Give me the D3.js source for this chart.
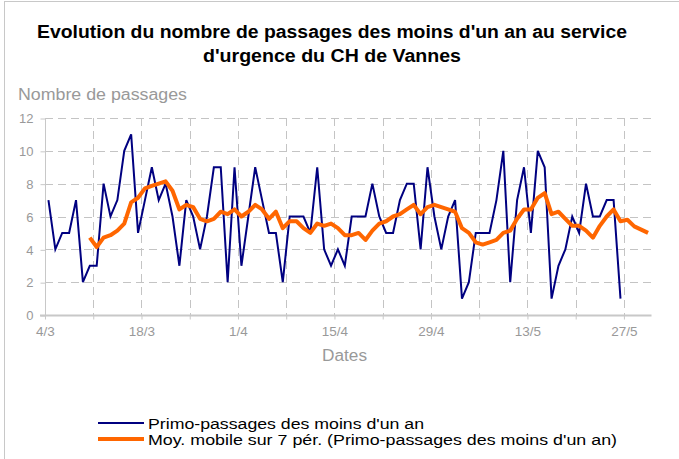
<!DOCTYPE html>
<html>
<head>
<meta charset="utf-8">
<script src="https://cdn.jsdelivr.net/npm/d3@7"></script>
<style>
  body { margin: 0; background: #fff; }
  text { font-family: "Liberation Sans", Arial, sans-serif; }
</style>
</head>
<body>
<svg id="chart" width="679" height="459"></svg>
<script>
// premier jour de la série, nombre de jours sur l'axe
var startDay = new Date(Date.UTC(2010, 2, 4));
var nDays = 88;
// libellés de l'axe des dates (toutes les 2 semaines)
var tickLabels = ['4/3', '18/3', '1/4', '15/4', '29/4', '13/5', '27/5'];
var yTicks = [0, 2, 4, 6, 8, 10, 12];

// primo-passages des moins d'un an, un point par jour depuis le 4/3
var primo = [
  7, 4, 5, 5, 7, 2, 3, 3, 8, 6, 7, 10, 11, 5,
  7, 9, 7, 8, 6, 3, 7, 6, 4, 6, 9, 9, 2, 9,
  3, 6, 9, 7, 5, 5, 2, 6, 6, 6, 5, 9, 4, 3,
  4, 3, 6, 6, 6, 8, 6, 5, 5, 7, 8, 8, 4, 9,
  6, 4, 6, 7, 1, 2, 5, 5, 5, 7, 10, 2, 7, 9,
  5, 10, 9, 1, 3, 4, 6, 5, 8, 6, 6, 7, 7, 1
];
// moyenne mobile sur 7 périodes
var moyenne = [
  null, null, null, null, null, null,
  4.71, 4.14, 4.71, 4.86, 5.14, 5.57, 6.86, 7.14,
  7.71, 7.86, 8.00, 8.14, 7.57, 6.43, 6.71, 6.57,
  5.86, 5.71, 5.86, 6.29, 6.14, 6.43, 6.00, 6.29,
  6.71, 6.43, 5.86, 6.29, 5.29, 5.71, 5.71, 5.29,
  5.00, 5.57, 5.43, 5.57, 5.29, 4.86, 4.86, 5.00,
  4.57, 5.14, 5.57, 5.71, 6.00, 6.14, 6.43, 6.71,
  6.14, 6.57, 6.71, 6.57, 6.43, 6.29, 5.29, 5.00,
  4.43, 4.29, 4.43, 4.57, 5.00, 5.14, 5.86, 6.43,
  6.43, 7.14, 7.43, 6.14, 6.29, 5.86, 5.43, 5.43,
  5.14, 4.71, 5.43, 6.00, 6.43, 5.71, 5.80, 5.40,
  5.20, 5.00
];

var svg = d3.select('#chart');
var grey = '#999999', gridColor = '#c4c4c4';

// cadre
svg.append('rect')
  .attr('x', 4.5).attr('y', 1.5)
  .attr('width', 700).attr('height', 500)
  .attr('fill', 'none').attr('stroke', '#c8c8c8');

var plot = { left: 45, right: 651.5, top: 118, bottom: 315 };
var endDay = d3.utcDay.offset(startDay, nDays);
var x = d3.scaleUtc().domain([startDay, endDay]).range([plot.left, plot.right]);
var y = d3.scaleLinear().domain([0, 12]).range([plot.bottom, plot.top]);

function dayCenter(i) {
  return x(d3.utcHour.offset(d3.utcDay.offset(startDay, i), 12));
}

// grille
var weeks = d3.utcDay.range(startDay, endDay, 7);
svg.append('g').selectAll('line')
  .data(weeks.slice(1))
  .enter().append('line')
  .attr('x1', function (d) { return Math.round(x(d)) + 0.5; })
  .attr('x2', function (d) { return Math.round(x(d)) + 0.5; })
  .attr('y1', plot.top).attr('y2', plot.bottom)
  .attr('stroke', gridColor).attr('stroke-dasharray', '8,5');
svg.append('g').selectAll('line')
  .data(yTicks.slice(1))
  .enter().append('line')
  .attr('x1', plot.left).attr('x2', plot.right)
  .attr('y1', function (d) { return Math.round(y(d)) + 0.5; })
  .attr('y2', function (d) { return Math.round(y(d)) + 0.5; })
  .attr('stroke', gridColor).attr('stroke-dasharray', '8,5');

// axe des ordonnées
var yAxis = svg.append('g')
  .attr('transform', 'translate(' + (plot.left + 0.5) + ',0.5)')
  .call(d3.axisLeft(y).tickValues(yTicks).tickSize(5).tickPadding(7));
yAxis.select('.domain').attr('stroke', '#c8c8c8').attr('d', 'M0,' + plot.top + 'V' + plot.bottom);
yAxis.selectAll('.tick line').attr('stroke', '#c8c8c8');
yAxis.selectAll('.tick text')
  .attr('fill', grey).attr('font-size', 13)
  .style('font-family', '"Liberation Sans", Arial, sans-serif');

// axe des dates
var xAxis = svg.append('g')
  .attr('transform', 'translate(0,' + (plot.bottom + 0.5) + ')')
  .call(d3.axisBottom(x).tickValues(weeks).tickSize(4).tickPadding(7)
    .tickFormat(function (d, i) { return i % 2 === 0 ? tickLabels[i / 2] : ''; }));
xAxis.select('.domain').attr('stroke', '#c8c8c8').attr('stroke-width', 2)
  .attr('d', 'M' + (plot.left - 5) + ',0H' + plot.right);
xAxis.selectAll('.tick line').attr('stroke', '#c8c8c8');
xAxis.selectAll('.tick text')
  .attr('fill', grey).attr('font-size', 13.5)
  .style('font-family', '"Liberation Sans", Arial, sans-serif');

// séries
var line = d3.line()
  .defined(function (d) { return d != null; })
  .x(function (d, i) { return dayCenter(i); })
  .y(function (d) { return y(d); });
svg.append('path').datum(primo)
  .attr('d', line).attr('fill', 'none')
  .attr('stroke', '#000080').attr('stroke-width', 2).attr('stroke-linejoin', 'miter');
svg.append('path').datum(moyenne)
  .attr('d', line).attr('fill', 'none')
  .attr('stroke', '#ff6600').attr('stroke-width', 4).attr('stroke-linejoin', 'round');

// titres (le texte d'origine est un peu étiré en largeur)
function stretched(sel, len) {
  return sel.attr('textLength', len).attr('lengthAdjust', 'spacingAndGlyphs');
}
stretched(svg.append('text').attr('x', 37).attr('y', 38)
  .attr('font-size', 17.5).attr('font-weight', 'bold').attr('fill', '#000')
  .text("Evolution du nombre de passages des moins d'un an au service"), 590);
stretched(svg.append('text').attr('x', 203).attr('y', 62)
  .attr('font-size', 17.5).attr('font-weight', 'bold').attr('fill', '#000')
  .text("d'urgence du CH de Vannes"), 258);
stretched(svg.append('text').attr('x', 18).attr('y', 100)
  .attr('font-size', 16).attr('fill', grey)
  .text('Nombre de passages'), 169);
stretched(svg.append('text').attr('x', 322).attr('y', 361)
  .attr('font-size', 16).attr('fill', grey)
  .text('Dates'), 45);

// légende
var legend = [
  { name: "Primo-passages des moins d'un an", color: '#000080', width: 2, len: 276 },
  { name: "Moy. mobile sur 7 pér. (Primo-passages des moins d'un an)", color: '#ff6600', width: 4, len: 469 }
];
var lg = svg.append('g').selectAll('g')
  .data(legend).enter().append('g')
  .attr('transform', function (d, i) { return 'translate(98,' + (423 + i * 16) + ')'; });
lg.append('line').attr('x1', 0).attr('x2', 46)
  .attr('stroke', function (d) { return d.color; })
  .attr('stroke-width', function (d) { return d.width; });
lg.append('text').attr('x', 50).attr('y', 5.5)
  .attr('font-size', 15.5).attr('fill', '#000')
  .attr('textLength', function (d) { return d.len; })
  .attr('lengthAdjust', 'spacingAndGlyphs')
  .text(function (d) { return d.name; });
</script>
</body>
</html>
